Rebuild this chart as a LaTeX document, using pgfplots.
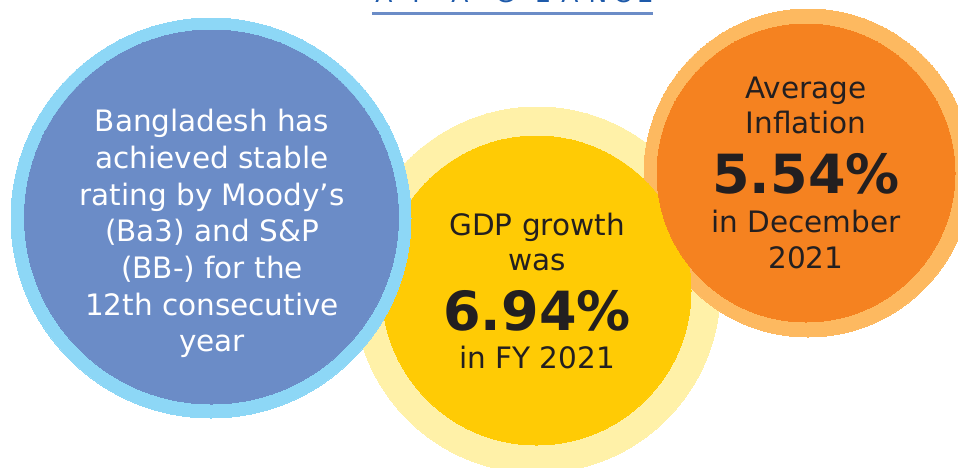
\documentclass[border=0pt]{standalone}
\usepackage{pgfplots}
\pgfplotsset{compat=1.18}
\usepackage{fontspec}
\setmainfont{DejaVu Sans}

\definecolor{blueIn}{RGB}{107,140,199}
\definecolor{blueRing}{RGB}{141,215,246}
\definecolor{yelIn}{RGB}{255,203,5}
\definecolor{yelRing}{RGB}{255,241,168}
\definecolor{orIn}{RGB}{245,130,32}
\definecolor{orRing}{RGB}{253,185,96}
\definecolor{ink}{RGB}{35,31,32}
\definecolor{titleBlue}{RGB}{30,90,170}
\definecolor{rule}{RGB}{107,140,199}

\tikzset{
  body/.style={anchor=base, text=ink, font=\fontsize{29.5}{36}\selectfont},
  wbody/.style={anchor=base, text=white, font=\fontsize{29.5}{36}\selectfont},
  big/.style={anchor=base, text=ink, font=\bfseries\fontsize{54}{60}\selectfont},
  ttl/.style={anchor=base, text=titleBlue, font=\fontsize{25}{30}\selectfont},
}
\pgfplotsset{disc/.style={only marks, mark=*, color=#1, mark options={fill=#1, draw=#1, line width=0pt}}}

\begin{document}
\begin{tikzpicture}
\begin{axis}[
    name=ax,
    scale only axis,
    width=958pt, height=467pt,
    xmin=0, xmax=958, ymin=0, ymax=467,
    y dir=reverse,
    hide axis,
    clip=false,
    clip marker paths=true,
]
% circles: centre in pixels, mark size = radius
% yellow halo, orange halo, yellow disc, orange disc, blue halo, blue disc
\addplot[disc=yelRing, mark size=183] coordinates {(537,290)};
\addplot[disc=orRing, mark size=164] coordinates {(808,173)};
\addplot[disc=yelIn, mark size=154.5] coordinates {(536.5,290.5)};
\addplot[disc=orIn, mark size=149] coordinates {(806,173)};
\addplot[disc=blueRing, mark size=200] coordinates {(211,218)};
\addplot[disc=blueIn, mark size=187] coordinates {(211.5,217)};

% title rule
\addplot[rule, line width=2.5pt] coordinates {(372,13.3) (653,13.3)};

% title letters (cut off at the top edge)
\node[ttl] at (axis cs:384,2.7) {A};
\node[ttl] at (axis cs:416,2.7) {T};
\node[ttl] at (axis cs:460,2.7) {A};
\node[ttl] at (axis cs:505,2.7) {G};
\node[ttl] at (axis cs:542,2.7) {L};
\node[ttl] at (axis cs:570,2.7) {A};
\node[ttl] at (axis cs:598,2.7) {N};
\node[ttl] at (axis cs:622,2.7) {C};
\node[ttl] at (axis cs:645,2.7) {E};

% blue circle text
\node[wbody] at (axis cs:212,131.7) {Bangladesh has};
\node[wbody] at (axis cs:212,168.3) {achieved stable};
\node[wbody] at (axis cs:212,205) {rating by Moody\symbol{"27}s};
\node[wbody] at (axis cs:212,241.7) {(Ba3) and S\&P};
\node[wbody] at (axis cs:212,278.3) {(BB-) for the};
\node[wbody] at (axis cs:212,315) {12th consecutive};
\node[wbody] at (axis cs:212,351.7) {year};

% yellow circle text
\node[body] at (axis cs:537,235) {GDP growth};
\node[body] at (axis cs:537,270) {was};
\node[big] at (axis cs:537,330) {6.94\%};
\node[body] at (axis cs:537,368) {in FY 2021};

% orange circle text
\node[body] at (axis cs:806,98) {Average};
\node[body] at (axis cs:806,133) {Inflation};
\node[big] at (axis cs:806,193) {5.54\%};
\node[body] at (axis cs:806,232) {in December};
\node[body] at (axis cs:806,268) {2021};
\end{axis}
\pgfresetboundingbox
\path[use as bounding box] (ax.south west) rectangle (ax.north east);
\end{tikzpicture}
\end{document}
